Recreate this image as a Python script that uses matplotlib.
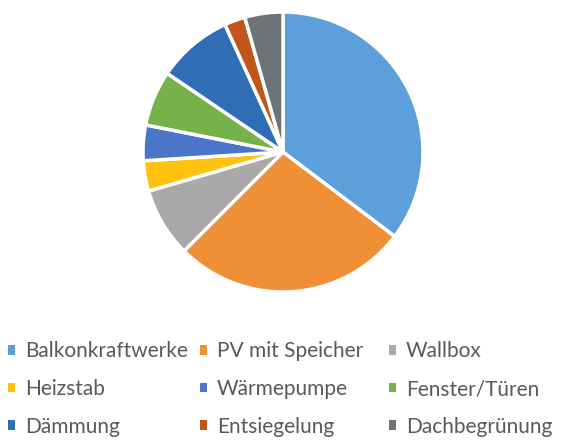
import matplotlib.pyplot as plt
from matplotlib.patches import Patch

labels = ["Balkonkraftwerke", "PV mit Speicher", "Wallbox", "Heizstab", "Wärmepumpe",
          "Fenster/Türen", "Dämmung", "Entsiegelung", "Dachbegrünung"]
values = [35.3, 27.2, 8.0, 3.5, 4.1, 6.4, 8.7, 2.4, 4.4]
colors = ["#5D9FDA", "#F08F35", "#A9A9A9", "#FFC20E", "#4A75C8",
          "#76B24A", "#2F6EB5", "#C0561A", "#6E7378"]

plt.rcParams["font.family"] = ["Lato", "DejaVu Sans"]

W, H = 561, 441
fig = plt.figure(figsize=(W / 100, H / 100), dpi=100)
cx, cy, r = 283, 152, 140
ax = fig.add_axes([(cx - r) / W, 1 - (cy + r) / H, 2 * r / W, 2 * r / H])
ax.pie(values, colors=colors, startangle=90, counterclock=False,
       wedgeprops=dict(edgecolor="white", linewidth=2.5))
ax.set_xlim(-1, 1)
ax.set_ylim(-1, 1)

# Excel-style legend: 3 columns of equal width, filled row by row
ncol = 3
col_x = [8, 200, 389]
for c in range(ncol):
    idx = list(range(c, len(labels), ncol))
    handles = [Patch(facecolor=colors[i], label=labels[i]) for i in idx]
    fig.legend(handles=handles, loc="center left",
               bbox_to_anchor=(col_x[c] / W, (H - 389) / H),
               frameon=False, fontsize=15, labelcolor="#595959",
               handlelength=0.35, handleheight=0.35, handletextpad=0.45,
               labelspacing=0.85, borderpad=0, borderaxespad=0)

fig.savefig("out.png", dpi=100)
